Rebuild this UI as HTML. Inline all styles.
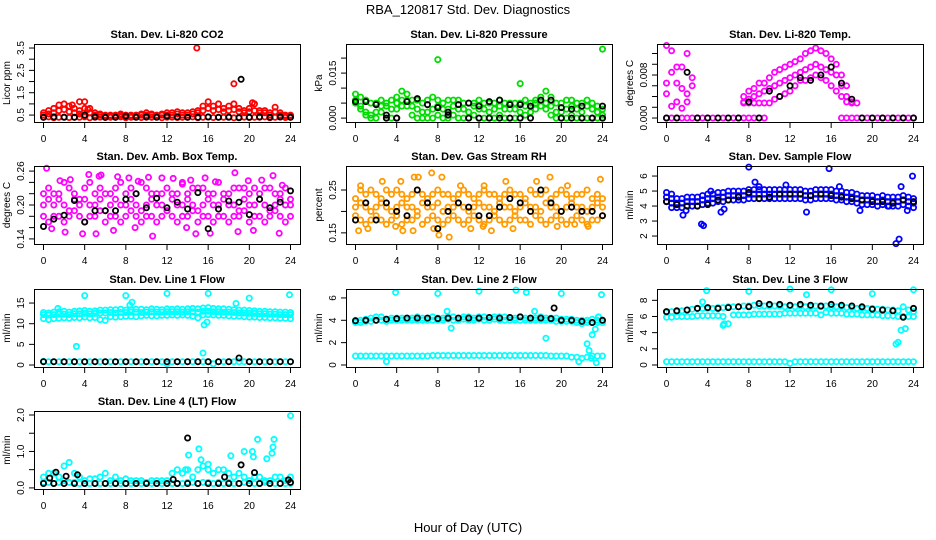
<!DOCTYPE html>
<html><head><meta charset="utf-8">
<style>
html,body{margin:0;padding:0;background:#fff;}
svg{display:block;font-family:"Liberation Sans",Arial,sans-serif;}
</style></head>
<body>
<svg id="chart" width="936" height="540" viewBox="0 0 936 540" xmlns="http://www.w3.org/2000/svg">
<text x="468" y="14" font-size="13" text-anchor="middle">RBA_120817  Std. Dev. Diagnostics</text>
<text x="468" y="532" font-size="13" text-anchor="middle">Hour of Day (UTC)</text>
</svg>
<script>
// ---- categories (hour grids) ----
const H49 = []; for (let i = 0; i < 49; i++) H49.push(i * 0.5);
const H25 = []; for (let i = 0; i < 25; i++) H25.push(i);
const xTickLabels = [0, 4, 8, 12, 16, 20, 24];

// ---- CO2 ----
const co2Base = [0.4,0.42,0.38,0.4,0.41,0.39,0.4, 0.4,0.42,0.38,0.4,0.41,0.39,0.4, 0.4,0.42,0.38,0.4,0.41,0.39,0.4, 0.4,0.42,0.38,0.4,0.41,0.39,0.4, 0.4,0.42,0.38,0.4,0.41,0.39,0.4, 0.4,0.42,0.38,0.4,0.41,0.39,0.4, 0.4,0.42,0.38,0.4,0.41,0.39,0.4];
const co2Mid = [0.5,0.55,0.6,0.7,0.75,0.65,0.6, 0.55,0.8,0.6,0.5,0.5,0.45,0.45, 0.45,0.5,0.45,0.45,0.45,0.5,0.5, 0.5,0.45,0.5,0.5,0.5,0.55,0.5, 0.5,0.55,0.6,0.7,0.8,0.7,0.75, 0.65,0.7,0.75,0.65,0.6,0.65,0.7, 0.6,0.6,0.5,0.65,0.5,0.45,0.45];
const co2Upper = [0.6,0.7,0.8,0.95,1.0,0.9,0.8, 0.7,1.1,0.8,0.6,0.55,0.5,0.5, 0.5,0.55,0.5,0.5,0.5,0.55,0.6, 0.55,0.5,0.55,0.6,0.6,0.65,0.6, 0.6,0.65,0.7,0.9,1.1,0.9,1.0, 0.8,0.9,1.0,0.8,0.7,0.8,1.0, 0.7,0.7,0.6,0.85,0.6,0.5,0.5];
const co2OutH = [14.9,18.5,20.3,3.5,2.8,4.3];
const co2OutV = [3.5,1.9,1.05,1.1,0.95,0.75];
const co2Blk = [0.4,0.42,0.4,0.4,0.5,0.42,0.4,0.4,0.45,0.4,0.42,0.4,0.45,0.42,0.4,0.4,0.42,0.4,0.4,0.38,0.4,0.42,0.4,0.42,0.4];
const co2BlkOutH = [19.2];
const co2BlkOutV = [2.1];

// ---- Pressure ----
const presHi = [0.008,0.007,0.006,0.005,0.005,0.006,0.005, 0.006,0.007,0.009,0.008,0.006,0.006,0.005, 0.006,0.007,0.006,0.005,0.006,0.006,0.006, 0.005,0.005,0.005,0.006,0.005,0.005,0.005, 0.006,0.005,0.005,0.005,0.005,0.006,0.005, 0.006,0.007,0.009,0.007,0.005,0.005,0.006, 0.006,0.005,0.005,0.006,0.005,0.004,0.003];
const presMid = [0.006,0.004,0.002,0.001,0.002,0.004,0.004, 0.003,0.005,0.006,0.006,0.004,0.003,0.002, 0.002,0.003,0.004,0.003,0.003,0.004,0.003, 0.003,0.002,0.004,0.003,0.003,0.002,0.003, 0.004,0.003,0.003,0.003,0.002,0.004,0.004, 0.005,0.006,0.005,0.004,0.002,0.002,0.003, 0.004,0.003,0.002,0.004,0.003,0.002,0.001];
const presLo = [0.005,0.003,0.001,0,0,0.002,0, 0,0.003,0.004,0.004,0.001,0,0, 0,0,0.001,0,0,0.001,0, 0,0,0.001,0,0,0,0, 0.001,0,0,0,0,0.001,0.002, 0.003,0.004,0.003,0.001,0,0,0, 0.001,0,0,0,0,0,0];
const presOutH = [8.0,16.0,24.0];
const presOutV = [0.0195,0.0115,0.0230];
const presBlk = [0.0055,0.0055,0.0045,0.0010,0.0000,0.0055,0.0065,0.0045,0.0035,0.0020,0.0045,0.0050,0.0040,0.0055,0.0060,0.0045,0.0045,0.0040,0.0060,0.0060,0.0035,0.0030,0.0040,0.0000,0.0040];
const presBlk2 = [null,null,null,0,0,null,null,null,0.0035,0.001,null,0,0,0,0,0,0,0,null,null,0,0,0,0,0];

// ---- Li-820 Temp ----
const tempZero = [0,0,0,0,0,0,0, 0,0,0,0,0,0,0, 0,0,0,0,0,0,null, null,null,null,null,null,null,null, null,null,null,null,null,null,0, 0,0,0,0,0,0,0, 0,0,0,0,0,0,0];
const tempHi = [0.0135,0.0125,0.0095,0.0095,0.012,0.0075,null, null,null,null,null,null,null,null, null,0.0040,0.0050,0.0055,0.0065,0.0065,0.0075, 0.0085,0.0090,0.0095,0.0100,0.0105,0.0110,0.0120, 0.0125,0.0130,0.0125,0.0120,0.0110,0.0100,0.0080, 0.0060,null,null,null,null,null,null, null,null,null,null,null,null,null];
const tempMid = [0.0065,0.0085,0.0065,0.0055,0.0045,0.0060,null, null,null,null,null,null,null,null, null,0.0030,0.0035,0.0040,0.0045,0.0050,0.0055, 0.0060,0.0065,0.0070,0.0075,0.0080,0.0085,0.0090, 0.0095,0.0100,0.0095,0.0090,0.0085,0.0080,0.0060, 0.0040,0.0030,null,null,null,null,null, null,null,null,null,null,null,null];
const tempLo = [0.0045,0.0022,0.0030,0.0018,0.003,null,null, null,null,null,null,null,null,null, null,0.0028,0.0028,0.0028,0.0028,0.0028,0.0028, 0.0035,0.0040,0.0045,0.0050,0.0060,0.0070,0.0070, 0.0075,0.0080,0.0075,0.0070,0.0060,0.0050,0.0040, 0.0030,0.0028,0.0028,null,null,null,null, null,null,null,null,null,null,null];
const tempBlk = [0,0,0.0085,0,0,0,0,0,0.003,0,0.005,0.004,0.006,0.0075,0.007,0.008,0.0095,0.0065,0.0035,0,0,0,0,0,0];

// ---- Amb Box Temp ----
const ambHi = [0.22,0.23,0.22,0.22,0.24,0.23,0.22, 0.21,0.23,0.24,0.22,0.23,0.22,0.22, 0.23,0.24,0.22,0.23,0.22,0.24,0.23, 0.22,0.22,0.22,0.23,0.22,0.22,0.24, 0.22,0.23,0.23,0.23,0.22,0.22,0.24, 0.22,0.22,0.23,0.23,0.23,0.22,0.23, 0.22,0.23,0.23,0.22,0.22,0.23,0.21];
const ambMid = [0.20,0.21,0.20,0.21,0.20,0.19,0.21, 0.20,0.21,0.20,0.20,0.21,0.19,0.20, 0.21,0.20,0.20,0.21,0.20,0.19,0.20, 0.21,0.20,0.20,0.19,0.21,0.20,0.20, 0.21,0.20,0.19,0.20,0.21,0.20,0.20, 0.21,0.20,0.20,0.19,0.21,0.20,0.20, 0.21,0.20,0.19,0.20,0.21,0.20,0.20];
const ambLo = [0.18,0.17,0.18,0.18,0.17,0.18,0.19, 0.18,0.17,0.18,0.18,0.19,0.17,0.18, 0.18,0.17,0.18,0.19,0.18,0.17,0.18, 0.18,0.17,0.18,0.19,0.18,0.17,0.18, 0.18,0.19,0.17,0.18,0.18,0.17,0.18, 0.18,0.17,0.18,0.18,0.19,0.17,0.18, 0.18,0.17,0.18,0.19,0.18,0.17,0.18];
const ambOutH = [0.3,1.6,2.6,4.4,5.4,5.6,7.2,8.3,9.2,10.2,11.5,12.6,13.5,14.3,15.7,16.7,18.6,19.9,21.2,22.3,23.2, 0.8,2.1,3.8,5.1,6.8,8.9,10.6,13.9,14.8,16.2,18.9,20.4,22.9];
const ambOutV = [0.265,0.243,0.245,0.254,0.251,0.253,0.250,0.248,0.242,0.249,0.248,0.247,0.237,0.244,0.248,0.241,0.257,0.243,0.244,0.252,0.235, 0.158,0.152,0.149,0.149,0.155,0.160,0.145,0.160,0.149,0.150,0.153,0.155,0.150];
const ambBlk = [0.162,0.175,0.182,0.208,0.170,0.190,0.190,0.190,0.210,0.220,0.195,0.212,0.195,0.205,0.193,0.222,0.158,0.193,0.207,0.205,0.183,0.210,0.195,0.205,0.225];

// ---- Gas Stream RH ----
const rhHi = [0.23,0.25,0.24,0.25,0.24,0.23,0.25, 0.24,0.25,0.24,0.23,0.24,0.25,0.24, 0.23,0.24,0.25,0.24,0.24,0.23,0.24, 0.25,0.24,0.23,0.24,0.25,0.24,0.24, 0.23,0.24,0.25,0.24,0.24,0.23,0.25, 0.24,0.24,0.25,0.23,0.24,0.25,0.24, 0.23,0.24,0.24,0.25,0.23,0.24,0.23];
const rhMid = [0.21,0.22,0.21,0.20,0.21,0.22,0.21, 0.20,0.21,0.22,0.21,0.21,0.20,0.22, 0.21,0.21,0.22,0.20,0.21,0.21,0.22, 0.21,0.20,0.21,0.22,0.21,0.21,0.20, 0.22,0.21,0.21,0.20,0.21,0.22,0.21, 0.21,0.20,0.22,0.21,0.21,0.20,0.21, 0.22,0.21,0.21,0.20,0.21,0.22,0.21];
const rhLo = [0.19,0.18,0.17,0.18,0.19,0.18,0.17, 0.18,0.19,0.17,0.18,0.18,0.19,0.17, 0.18,0.19,0.18,0.17,0.18,0.19,0.18, 0.17,0.18,0.19,0.18,0.17,0.18,0.19, 0.18,0.17,0.18,0.19,0.18,0.18,0.17, 0.19,0.18,0.17,0.18,0.19,0.18,0.17, 0.18,0.19,0.18,0.17,0.18,0.18,0.19];
const rhOutH = [0.5,2.6,4.4,5.7,6.1,7.4,8.4,10.2,12.5,14.6,17.6,18.9,20.6,23.8, 0.3,1.2,3.9,4.6,5.6,7.6,8.1,9.1,11.2,12.4,13.2,15.3,19.6,21.3,22.6];
const rhOutV = [0.26,0.27,0.27,0.28,0.28,0.29,0.28,0.26,0.26,0.27,0.27,0.28,0.26,0.275, 0.155,0.16,0.165,0.155,0.155,0.16,0.145,0.14,0.16,0.165,0.155,0.16,0.165,0.17,0.165];
const rhBlk = [0.18,0.22,0.18,0.22,0.20,0.19,0.25,0.22,0.16,0.20,0.22,0.21,0.19,0.19,0.21,0.23,0.22,0.20,0.25,0.22,0.20,0.21,0.20,0.20,0.19];

// ---- Sample Flow ----
const sfHi = [4.9,4.8,4.5,4.5,4.6,4.6,4.6, 4.7,4.8,4.8,4.9,4.9,5.0,5.0, 5.0,5.0,5.1,5.1,5.1,5.1,5.1, 5.1,5.1,5.1,5.1,5.1,5.1,5.0, 5.0,5.1,5.1,5.1,5.1,5.0,5.0, 4.9,4.9,4.8,4.7,4.7,4.7,4.6, 4.7,4.6,4.6,4.6,4.7,4.6,4.5];
const sfMid = [4.6,4.5,4.2,4.2,4.3,4.3,4.3, 4.4,4.5,4.5,4.6,4.6,4.7,4.7, 4.7,4.7,4.8,4.8,4.8,4.8,4.8, 4.8,4.8,4.8,4.8,4.8,4.8,4.7, 4.7,4.8,4.8,4.8,4.8,4.7,4.7, 4.6,4.6,4.5,4.4,4.4,4.4,4.3, 4.4,4.3,4.3,4.3,4.4,4.3,4.2];
const sfLo = [4.3,4.2,3.9,3.9,4.0,4.0,4.0, 4.1,4.2,4.2,4.3,4.3,4.4,4.4, 4.4,4.4,4.5,4.5,4.5,4.5,4.5, 4.5,4.5,4.5,4.5,4.5,4.5,4.4, 4.4,4.5,4.5,4.5,4.5,4.4,4.4, 4.3,4.3,4.2,4.1,4.1,4.1,4.0, 4.1,4.0,4.0,4.0,4.1,4.0,3.9];
const sfOutH = [0.5,1.6,1.9,3.4,3.6,4.3,5.3,5.6,8.0,8.6,9.0,11.6,13.6,15.8,16.8,18.8,21.6,22.3,22.6,22.8,23.4,23.9];
const sfOutV = [3.9,3.4,3.7,2.8,2.7,5.0,3.6,3.8,6.6,5.6,5.3,5.4,3.6,6.5,5.3,3.7,4.0,1.5,1.8,5.3,3.7,6.0];
const sfBlk = [4.3,4.1,4.0,4.0,4.1,4.4,4.4,4.6,4.9,4.5,4.6,4.8,4.8,4.8,4.7,4.8,4.7,4.6,4.5,4.4,4.3,4.3,4.2,4.4,4.3];

// ---- Line 1 Flow ----
const l1Hi = [12.7,12.6,12.8,12.9,13.0,12.8,13.0, 13.1,13.2,13.0,13.1,13.3,13.3,13.4, 13.4,13.5,13.3,13.4,13.5,13.5,13.4, 13.6,13.5,13.4,13.6,13.5,13.6,13.5, 13.6,13.7,13.6,13.8,13.9,13.7,13.6, 13.6,13.5,13.4,13.3,13.3,13.2,13.1, 13.0,13.0,12.9,12.9,12.8,12.8,12.7];
const l1Mid = [12.2,12.1,12.2,12.3,12.3,12.2,12.4, 12.4,12.5,12.4,12.5,12.6,12.6,12.7, 12.6,12.7,12.7,12.8,12.8,12.7,12.8, 12.9,12.8,12.8,12.9,12.9,12.9,12.8, 12.9,12.9,12.8,13.0,13.0,12.9,12.9, 12.8,12.8,12.7,12.6,12.6,12.5,12.5, 12.4,12.4,12.3,12.3,12.2,12.2,12.2];
const l1Lo = [11.2,11.0,11.2,11.3,11.4,11.3,11.5, 11.4,11.6,11.4,11.5,11.0,10.8,11.7, 11.6,11.7,11.8,11.8,11.7,11.9,12.0, 11.9,11.9,12.0,12.0,12.1,12.0,12.1, 12.0,11.8,11.4,12.1,12.2,12.1,12.0, 12.0,11.9,11.8,11.8,11.7,11.6,11.6, 11.5,11.5,11.4,11.4,11.3,11.3,11.2];
const l1Base = [0.9,0.8,0.8,0.8,0.8,0.8,0.8, 0.8,0.8,0.8,0.8,0.8,0.8,0.8, 0.8,0.8,0.8,0.8,0.8,0.8,0.8, 0.8,0.8,0.8,0.3,0.8,0.8,0.8, 0.8,0.8,0.8,0.8,0.8,0.3,0.8, 0.8,0.8,0.8,0.8,0.8,0.8,0.8, 0.8,0.8,0.8,0.8,0.8,0.8,0.8];
const l1OutH = [3.2,4.0,8.0,8.4,8.6,12.0,15.5,15.6,15.9,16.0,18.7,20.0,23.9,1.4];
const l1OutV = [4.5,16.8,16.8,14.5,15.2,17.3,2.9,9.7,10.4,17.3,14.9,16.2,17.0,13.7];
const l1Blk = [0.8,0.8,0.8,0.8,0.8,0.8,0.8,0.8,0.8,0.8,0.8,0.8,0.8,0.8,0.8,0.8,0.8,0.8,0.8,1.7,0.8,0.8,0.8,0.8,0.8];

// ---- Line 2 Flow ----
const l2Hi = [4.0,4.0,4.1,4.2,4.3,4.3,4.1, 4.2,4.2,4.2,4.2,4.2,4.3,4.2, 4.2,4.3,4.2,4.2,4.3,4.3,4.2, 4.3,4.3,4.2,4.3,4.3,4.2,4.3, 4.3,4.3,4.2,4.2,4.3,4.2,4.2, 4.2,4.3,4.2,4.2,4.2,4.1,4.1, 4.1,4.0,4.0,4.0,4.1,4.0,4.0];
const l2Lo = [3.8,3.8,3.9,3.9,4.0,4.0,3.9, 4.0,4.0,4.0,4.0,4.0,4.0,4.0, 4.0,4.0,4.0,4.0,4.1,4.0,4.0, 4.1,4.0,4.0,4.1,4.0,4.0,4.1, 4.0,4.0,4.0,4.0,4.0,4.0,4.0, 4.0,4.0,4.0,4.0,3.9,3.9,3.9, 3.9,3.8,3.7,3.8,3.8,3.8,3.8];
const l2Base = [0.8,0.8,0.8,0.8,0.8,0.8,0.8, 0.8,0.8,0.8,0.8,0.8,0.8,0.8, 0.8,0.85,0.85,0.85,0.85,0.85,0.85, 0.85,0.85,0.85,0.85,0.85,0.85,0.85, 0.85,0.85,0.85,0.85,0.85,0.85,0.85, 0.85,0.85,0.85,0.8,0.8,0.8,0.8, 0.7,0.7,0.6,0.7,0.8,0.8,0.8];
const l2OutH = [3.9,8.0,12.0,15.6,16.6,20.0,23.9,3.0,8.9,9.3,17.4,18.5,21.7,22.5,22.7,23.0,23.3,23.4,23.6,22.9];
const l2OutV = [6.5,6.4,6.6,6.7,6.5,6.4,6.3,0.3,4.8,3.3,4.8,2.4,0.3,1.9,1.3,2.7,3.2,0.2,4.3,0.6];
const l2Blk = [3.95,4.0,4.0,4.1,4.15,4.2,4.2,4.2,4.15,4.2,4.2,4.2,4.2,4.25,4.2,4.25,4.3,4.2,4.2,4.15,4.0,4.0,3.9,3.8,4.0];
const l2BlkOutH = [19.3];
const l2BlkOutV = [5.1];

// ---- Line 3 Flow ----
const l3Hi = [6.5,6.6,6.6,6.7,6.8,6.9,7.0, 7.0,7.0,7.0,7.1,7.1,7.2,7.2, 7.2,7.3,7.3,7.4,7.3,7.3,7.3, 7.3,7.3,7.2,7.3,7.2,7.3,7.2, 7.2,7.3,7.2,7.3,7.2,7.2,7.2, 7.1,7.1,7.0,7.0,7.0,7.0,6.9, 6.9,6.8,6.8,6.7,7.2,6.8,6.6];
const l3Lo = [5.9,5.9,6.0,6.0,6.0,6.0,6.1, 6.1,6.1,6.1,6.1,6.0,5.1,6.2, 6.2,6.2,6.2,6.3,6.3,6.3,6.3, 6.3,6.3,6.4,6.4,6.4,6.4,6.4, 6.4,6.4,6.2,6.5,6.4,6.4,6.4, 6.3,6.3,6.3,6.2,6.2,6.2,6.2, 6.1,6.1,6.1,6.0,6.0,6.0,6.0];
const l3Base = [0.4,0.4,0.4,0.4,0.4,0.4,0.4, 0.4,0.4,0.4,0.4,0.4,0.4,0.4, 0.4,0.4,0.4,0.4,0.4,0.4,0.4, 0.4,0.4,0.4,0.2,0.4,0.4,0.4, 0.4,0.4,0.4,0.4,0.4,0.4,0.4, 0.4,0.4,0.4,0.4,0.4,0.4,0.4, 0.4,0.4,0.4,0.4,0.4,0.4,0.4];
const l3OutH = [3.9,8.0,12.0,13.6,16.0,20.0,24.0,3.5,5.5,5.6,22.3,22.5,22.8,23.2];
const l3OutV = [9.2,9.1,9.4,8.7,9.3,8.8,9.3,7.8,4.9,5.1,2.6,2.8,4.3,4.5];
const l3Blk = [6.6,6.7,6.8,7.0,7.1,7.0,7.1,7.2,7.2,7.6,7.5,7.5,7.4,7.5,7.4,7.3,7.5,7.4,7.3,7.2,6.9,6.8,6.7,5.9,7.0];

// ---- Line 4 (LT) Flow ----
const l4Base = [0.15,0.15,0.12,0.15,0.2,0.15,0.15, 0.12,0.12,0.12,0.12,0.12,0.12,0.12, 0.12,0.12,0.12,0.12,0.12,0.12,0.12, 0.12,0.12,0.12,0.12,0.12,0.12,0.12, 0.15,0.15,0.12,0.15,0.15,0.12,0.15, 0.12,0.15,0.12,0.12,0.15,0.12,0.12, 0.12,0.15,0.12,0.12,0.12,0.12,0.12];
const l4Up = [0.3,0.4,0.4,0.3,0.6,0.7,0.4, 0.3,0.2,0.25,0.25,0.3,0.4,0.2, 0.3,0.2,0.25,0.2,0.2,0.2,0.15, 0.2,0.2,0.2,0.2,0.4,0.5,0.4, 0.5,0.3,0.5,0.6,0.5,0.4,0.5, 0.5,0.4,0.3,0.4,0.3,0.2,0.3, 0.3,0.2,0.2,0.3,0.3,0.2,0.3];
const l4OutH = [14.1,15.1,15.3,16.0,18.2,19.5,20.3,20.4,20.8,21.7,22.2,22.3,22.4,24.0,13.8];
const l4OutV = [0.9,1.07,0.77,0.65,0.88,1.0,1.0,0.85,1.33,0.8,0.95,1.12,1.33,1.98,0.5];
const l4Blk = [0.12,0.12,0.12,0.12,0.12,0.12,0.12,0.12,0.12,0.12,0.12,0.12,0.12,0.12,0.12,0.12,0.12,0.12,0.12,0.12,0.12,0.12,0.12,0.12,0.15];
const l4BlkOutH = [0.6,1.2,2.2,3.3,12.6,14.0,17.6,19.2,20.5,23.8];
const l4BlkOutV = [0.27,0.43,0.32,0.36,0.23,1.37,0.30,0.63,0.42,0.22];

// ---- layout ----
const NS = 'http://www.w3.org/2000/svg';
const svg = document.getElementById('chart');
const colLeft = [34, 346, 657];
const rowTop = [44, 166, 289, 411];
const BW = 266, BH = 78;

function mk(tag, attrs, parent) {
  const e = document.createElementNS(NS, tag);
  for (const k in attrs) e.setAttribute(k, attrs[k]);
  (parent || svg).appendChild(e);
  return e;
}

function panel(cfg) {
  const L = colLeft[cfg.col], T = rowTop[cfg.row];
  const g = mk('g', {});
  
  
  const xs = h => L + 9.5 + h / 24 * 247;
  const ys = v => T + BH - (v - cfg.dom[0]) / (cfg.dom[1] - cfg.dom[0]) * BH;
  cfg.series.forEach(s => {
    const sg = mk('g', {fill: 'none', stroke: s.c, 'stroke-width': 1.8}, g);
    
    
    for (let i = 0; i < s.v.length; i++) {
      if (s.v[i] === null || s.v[i] === undefined) continue;
      const c = mk('circle', {cx: xs(s.h[i]).toFixed(1), cy: ys(s.v[i]).toFixed(1), r: 2.6}, sg);
      
      
    }
  });
  const box = mk('rect', {x: L + .5, y: T + .5, width: BW, height: BH, fill: 'none', stroke: '#000', 'stroke-width': 1}, g);
  
  
  const t = mk('text', {x: L + BW / 2, y: T - 6, 'font-size': 11, 'font-weight': 'bold', 'text-anchor': 'middle'}, g);
  t.textContent = cfg.title;
  
  
  const xa = mk('g', {stroke: '#000', 'stroke-width': 1}, g);
  
  
  mk('line', {x1: xs(0), x2: xs(24), y1: T + BH + 0.5, y2: T + BH + 0.5}, xa);
  xTickLabels.forEach(h => {
    mk('line', {x1: xs(h), x2: xs(h), y1: T + BH, y2: T + BH + 6}, xa);
    const tl = mk('text', {x: xs(h), y: T + BH + 20, 'font-size': 10, 'text-anchor': 'middle', stroke: 'none'}, xa);
    tl.textContent = h;
    
    
  });
  const ya = mk('g', {stroke: '#000', 'stroke-width': 1}, g);
  
  
  const tk = cfg.ticks;
  mk('line', {x1: L + .5, x2: L + .5, y1: ys(tk[0]), y2: ys(tk[tk.length - 1])}, ya);
  tk.forEach(v => {
    mk('line', {x1: L - 5, x2: L, y1: ys(v), y2: ys(v)}, ya);
  });
  cfg.labels.forEach((lab, i) => {
    const y = ys(cfg.labelVals[i]);
    const tl = mk('text', {x: 0, y: 0, 'font-size': 10, 'text-anchor': 'middle', stroke: 'none', transform: `translate(${L - 10},${y}) rotate(-90)`}, ya);
    tl.textContent = lab;
    
    
  });
  const yl = mk('text', {x: 0, y: 0, 'font-size': 10, 'text-anchor': 'middle', transform: `translate(${L - 24},${T + BH / 2}) rotate(-90)`}, g);
  yl.textContent = cfg.ylab;
  
  
}

const RED = '#ff0000', GRN = '#00dd00', MAG = '#ff00ff', ORG = '#ff9a00', BLU = '#0000ff', CYN = '#00ffff', BLK = '#000000';

panel({name: 'co2', col: 0, row: 0, title: 'Stan. Dev. Li-820 CO2', ylab: 'Licor ppm', dom: [0.19, 3.68],
  ticks: [0.5,1.0,1.5,2.0,2.5,3.0,3.5], labels: ['0.5','1.5','2.5','3.5'], labelVals: [0.5,1.5,2.5,3.5],
  series: [{n:'base',h:H49,v:co2Base,c:RED},{n:'mid',h:H49,v:co2Mid,c:RED},{n:'upper',h:H49,v:co2Upper,c:RED},{n:'outliers',h:co2OutH,v:co2OutV,c:RED},
    {n:'black',h:H25,v:co2Blk,c:BLK},{n:'black-outliers',h:co2BlkOutH,v:co2BlkOutV,c:BLK}]});

panel({name: 'pressure', col: 1, row: 0, title: 'Stan. Dev. Li-820 Pressure', ylab: 'kPa', dom: [-0.0013, 0.0247],
  ticks: [0,0.005,0.010,0.015,0.020], labels: ['0.000','0.015'], labelVals: [0,0.015],
  series: [{n:'hi',h:H49,v:presHi,c:GRN},{n:'mid',h:H49,v:presMid,c:GRN},{n:'lo',h:H49,v:presLo,c:GRN},{n:'outliers',h:presOutH,v:presOutV,c:GRN},
    {n:'black',h:H25,v:presBlk,c:BLK},{n:'black-2',h:H25,v:presBlk2,c:BLK}]});

panel({name: 'temp', col: 2, row: 0, title: 'Stan. Dev. Li-820 Temp.', ylab: 'degrees C', dom: [-0.00074, 0.01377],
  ticks: [0,0.002,0.004,0.006,0.008,0.010,0.012], labels: ['0.000','0.008'], labelVals: [0,0.008],
  series: [{n:'zero',h:H49,v:tempZero,c:MAG},{n:'hi',h:H49,v:tempHi,c:MAG},{n:'mid',h:H49,v:tempMid,c:MAG},{n:'lo',h:H49,v:tempLo,c:MAG},
    {n:'black',h:H25,v:tempBlk,c:BLK}]});

panel({name: 'amb-box', col: 0, row: 1, title: 'Stan. Dev. Amb. Box Temp.', ylab: 'degrees C', dom: [0.131, 0.269],
  ticks: [0.14,0.16,0.18,0.20,0.22,0.24,0.26], labels: ['0.14','0.20','0.26'], labelVals: [0.14,0.20,0.26],
  series: [{n:'hi',h:H49,v:ambHi,c:MAG},{n:'mid',h:H49,v:ambMid,c:MAG},{n:'lo',h:H49,v:ambLo,c:MAG},{n:'outliers',h:ambOutH,v:ambOutV,c:MAG},
    {n:'black',h:H25,v:ambBlk,c:BLK}]});

panel({name: 'rh', col: 1, row: 1, title: 'Stan. Dev. Gas Stream RH', ylab: 'percent', dom: [0.124, 0.306],
  ticks: [0.15,0.20,0.25], labels: ['0.15','0.25'], labelVals: [0.15,0.25],
  series: [{n:'hi',h:H49,v:rhHi,c:ORG},{n:'mid',h:H49,v:rhMid,c:ORG},{n:'lo',h:H49,v:rhLo,c:ORG},{n:'outliers',h:rhOutH,v:rhOutV,c:ORG},
    {n:'black',h:H25,v:rhBlk,c:BLK}]});

panel({name: 'sample-flow', col: 2, row: 1, title: 'Stan. Dev. Sample Flow', ylab: 'ml/min', dom: [1.47, 6.67],
  ticks: [2,3,4,5,6], labels: ['2','3','4','5','6'], labelVals: [2,3,4,5,6],
  series: [{n:'hi',h:H49,v:sfHi,c:BLU},{n:'mid',h:H49,v:sfMid,c:BLU},{n:'lo',h:H49,v:sfLo,c:BLU},{n:'outliers',h:sfOutH,v:sfOutV,c:BLU},
    {n:'black',h:H25,v:sfBlk,c:BLK}]});

panel({name: 'line1', col: 0, row: 2, title: 'Stan. Dev. Line 1 Flow', ylab: 'ml/min', dom: [-0.48, 18.4],
  ticks: [0,5,10,15], labels: ['0','5','10','15'], labelVals: [0,5,10,15],
  series: [{n:'hi',h:H49,v:l1Hi,c:CYN},{n:'mid',h:H49,v:l1Mid,c:CYN},{n:'lo',h:H49,v:l1Lo,c:CYN},{n:'base',h:H49,v:l1Base,c:CYN},{n:'outliers',h:l1OutH,v:l1OutV,c:CYN},
    {n:'black',h:H25,v:l1Blk,c:BLK}]});

panel({name: 'line2', col: 1, row: 2, title: 'Stan. Dev. Line 2 Flow', ylab: 'ml/min', dom: [-0.18, 6.8],
  ticks: [0,2,4,6], labels: ['0','2','4','6'], labelVals: [0,2,4,6],
  series: [{n:'hi',h:H49,v:l2Hi,c:CYN},{n:'lo',h:H49,v:l2Lo,c:CYN},{n:'base',h:H49,v:l2Base,c:CYN},{n:'outliers',h:l2OutH,v:l2OutV,c:CYN},
    {n:'black',h:H25,v:l2Blk,c:BLK},{n:'black-outliers',h:l2BlkOutH,v:l2BlkOutV,c:BLK}]});

panel({name: 'line3', col: 2, row: 2, title: 'Stan. Dev. Line 3 Flow', ylab: 'ml/min', dom: [-0.25, 9.4],
  ticks: [0,2,4,6,8], labels: ['0','2','4','6','8'], labelVals: [0,2,4,6,8],
  series: [{n:'hi',h:H49,v:l3Hi,c:CYN},{n:'lo',h:H49,v:l3Lo,c:CYN},{n:'base',h:H49,v:l3Base,c:CYN},{n:'outliers',h:l3OutH,v:l3OutV,c:CYN},
    {n:'black',h:H25,v:l3Blk,c:BLK}]});

panel({name: 'line4', col: 0, row: 3, title: 'Stan. Dev. Line 4 (LT) Flow', ylab: 'ml/min', dom: [-0.03, 2.11],
  ticks: [0,0.5,1.0,1.5,2.0], labels: ['0.0','1.0','2.0'], labelVals: [0,1,2],
  series: [{n:'base',h:H49,v:l4Base,c:CYN},{n:'up',h:H49,v:l4Up,c:CYN},{n:'outliers',h:l4OutH,v:l4OutV,c:CYN},
    {n:'black',h:H25,v:l4Blk,c:BLK},{n:'black-outliers',h:l4BlkOutH,v:l4BlkOutV,c:BLK}]});
</script>
</body></html>
